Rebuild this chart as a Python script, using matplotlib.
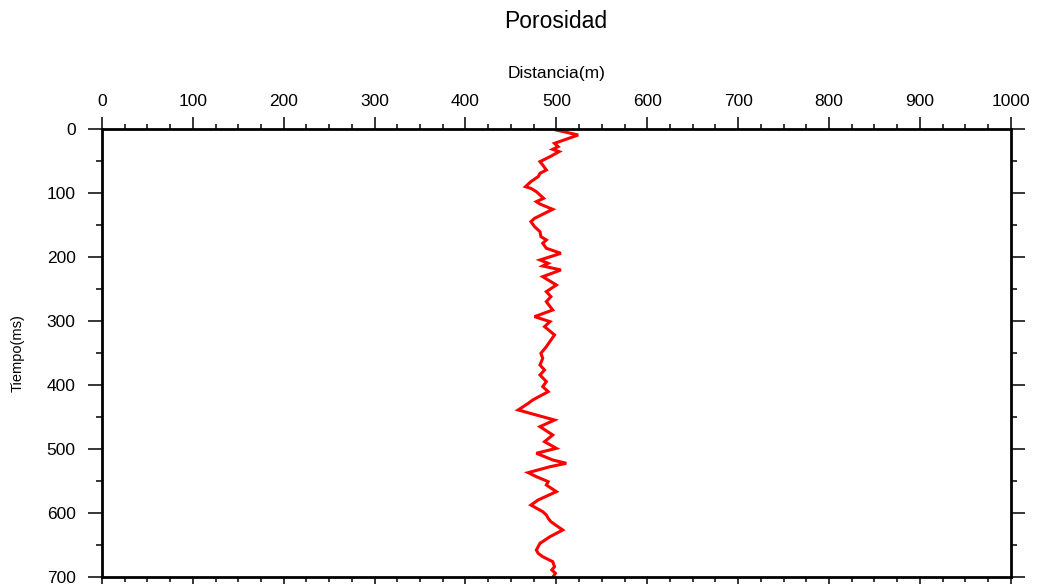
import matplotlib
matplotlib.use("Agg")
import matplotlib.pyplot as plt
from matplotlib.ticker import MultipleLocator

plt.rcParams['font.family'] = ['Liberation Sans', 'DejaVu Sans']

title = "Porosidad"
x_label = "Distancia(m)"
y_label = "Tiempo(ms)"

tiempo = [1.6, 9.4, 22.4, 27.6, 31.8, 35.4, 43.3, 51, 56.3, 64.1, 69.3, 74.5,
          82.3, 90.2, 92.8, 98, 103.2, 108.4, 113.6, 117.3, 125.6, 131.9,
          139.7, 144.9, 152.7, 160.5, 168.3, 173.5, 178.7, 186.5, 194.4,
          204.8, 210, 214.2, 220.4, 230.9, 243.9, 254.3, 262.1, 270, 283,
          293.4, 301.2, 309, 322, 330, 340.3, 350.7, 358.5, 369, 376.8,
          384.6, 395, 402.8, 410.7, 423.7, 429, 439.3, 447.2, 455, 465.4,
          478.4, 488.9, 499.3, 507, 517.5, 522.7, 528, 537.3, 543.6, 551.4,
          556.6, 567, 580, 588, 598.3, 603.5, 608.7, 614, 627, 637.4, 647.8,
          658.3, 663.5, 668.7, 676.5, 684.3, 689.5, 694.7, 698.9]
distancia = [500, 524, 498, 502, 496, 503, 493, 482, 485, 489, 482, 480,
             472, 466, 472, 478, 482, 486, 478, 482, 496, 487,
             476, 472, 476, 482, 483, 489, 485, 489, 505,
             482, 491, 485, 505, 485, 500, 489, 494, 489, 496,
             476, 493, 487, 498, 494, 489, 483, 485, 482, 487,
             482, 489, 485, 491, 474, 469, 458, 478, 498, 482,
             496, 487, 500, 478, 496, 511, 493, 469, 478, 491,
             489, 500, 480, 472, 485, 489, 491, 494, 507, 493, 482,
             478, 480, 485, 496, 498, 495, 499, 497]

fig = plt.figure(figsize=(10.39, 5.84), dpi=100)
ax = fig.add_axes([102/1039, 1 - 576.7/584, 908.7/1039, 447.7/584])

ax.plot(distancia, tiempo, color='#ff0000', lw=2.2, solid_joinstyle='miter')

ax.set_xlim(0, 1000)
ax.set_ylim(700, 0)

ax.xaxis.set_major_locator(MultipleLocator(100))
ax.xaxis.set_minor_locator(MultipleLocator(25))
ax.yaxis.set_major_locator(MultipleLocator(100))
ax.yaxis.set_minor_locator(MultipleLocator(50))

ax.tick_params(which='both', direction='out', top=True, bottom=True, left=True, right=True,
               labeltop=True, labelbottom=False, labelleft=True, labelright=False,
               width=1.1, color='black', labelsize=12.5)
ax.tick_params(axis='x', which='major', length=8.5, pad=6)
ax.tick_params(axis='x', which='minor', length=3.5)
ax.tick_params(axis='y', which='major', length=10, pad=9)
ax.tick_params(axis='y', which='minor', length=4.5)

for s in ax.spines.values():
    s.set_linewidth(2.0)

ax.set_xlabel(x_label, fontsize=12.5)
ax.xaxis.set_label_position('top')
ax.xaxis.set_label_coords(0.5, 1 + 56/447.7)
ax.xaxis.label.set_va('center')

ax.set_ylabel(y_label, fontsize=10.5)
ax.yaxis.set_label_coords(-84/908.7, 0.5)
ax.yaxis.label.set_va('center')

fig.text(556/1039, 1 - 22/584, title, ha='center', va='center', fontsize=16.5)

fig.savefig('out.png', dpi=100)
